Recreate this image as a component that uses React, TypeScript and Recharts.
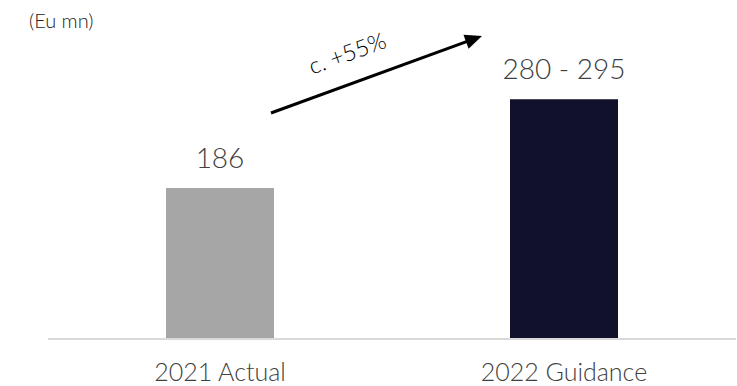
import React from "react";
import { BarChart, Bar, XAxis, YAxis, LabelList, Cell, Customized } from "recharts";

const categories = ["2021 Actual", "2022 Guidance"];
const values = [186, 295];
const valueLabels = ["186", "280 - 295"];
const colors = ["#a6a6a6", "#11112b"];
const unitLabel = "(Eu mn)";
const growthLabel = "c. +55%";

const data = categories.map((name, i) => ({ name, value: values[i], label: valueLabels[i] }));

const FONT = "Lato, 'Open Sans', sans-serif";
const TEXT = "#404040";

const Tick = (props: any) => {
  const { x, y, payload } = props;
  return (
    <text x={x} y={y + 34} textAnchor="middle" fontFamily={FONT} fontWeight={300} fontSize={25} fill={TEXT}>
      {payload.value}
    </text>
  );
};

const ValueLabel = (props: any) => {
  const { x, y, width, index } = props;
  return (
    <text x={x + width / 2} y={y - 20} textAnchor="middle" fontFamily={FONT} fontWeight={300} fontSize={28} fill={TEXT}>
      {valueLabels[index]}
    </text>
  );
};

const Arrow = () => {
  const x1 = 271, y1 = 113, x2 = 482, y2 = 36;
  const dx = x2 - x1, dy = y2 - y1;
  const len = Math.sqrt(dx * dx + dy * dy);
  const ux = dx / len, uy = dy / len;
  const hl = 17, hw = 7.5;
  const bx = x2 - ux * hl, by = y2 - uy * hl;
  const pts = `${x2},${y2} ${bx - uy * hw},${by + ux * hw} ${bx + uy * hw},${by - ux * hw}`;
  const ang = (Math.atan2(dy, dx) * 180) / Math.PI;
  return (
    <g>
      <line x1={x1} y1={y1} x2={bx + ux * 2} y2={by + uy * 2} stroke="#000" strokeWidth={3} />
      <polygon points={pts} fill="#000" />
      <text
        x={350}
        y={61}
        textAnchor="middle"
        fontFamily={FONT}
        fontWeight={300}
        fontSize={23}
        fill="#000"
        transform={`rotate(${ang} 350 61)`}
      >
        {growthLabel}
      </text>
      <text x={29} y={28} fontFamily={FONT} fontWeight={300} fontSize={20} fill="#222">
        {unitLabel}
      </text>
    </g>
  );
};

export default function App() {
  return (
    <div style={{ position: "absolute", left: 0, top: 0, background: "#fff" }}>
      <BarChart width={737} height={386} data={data} margin={{ top: 14, right: 1, bottom: 0, left: 48 }}>
        <XAxis
          dataKey="name"
          axisLine={{ stroke: "#d9d9d9", strokeWidth: 2 }}
          tickLine={false}
          tick={<Tick />}
          height={47}
          interval={0}
        />
        <YAxis hide domain={[0, 400]} />
        <Bar dataKey="value" barSize={108} isAnimationActive={false}>
          {data.map((d, i) => (
            <Cell key={d.name} fill={colors[i]} />
          ))}
          <LabelList dataKey="label" content={<ValueLabel />} />
        </Bar>
        <Customized component={<Arrow />} />
      </BarChart>
    </div>
  );
}
